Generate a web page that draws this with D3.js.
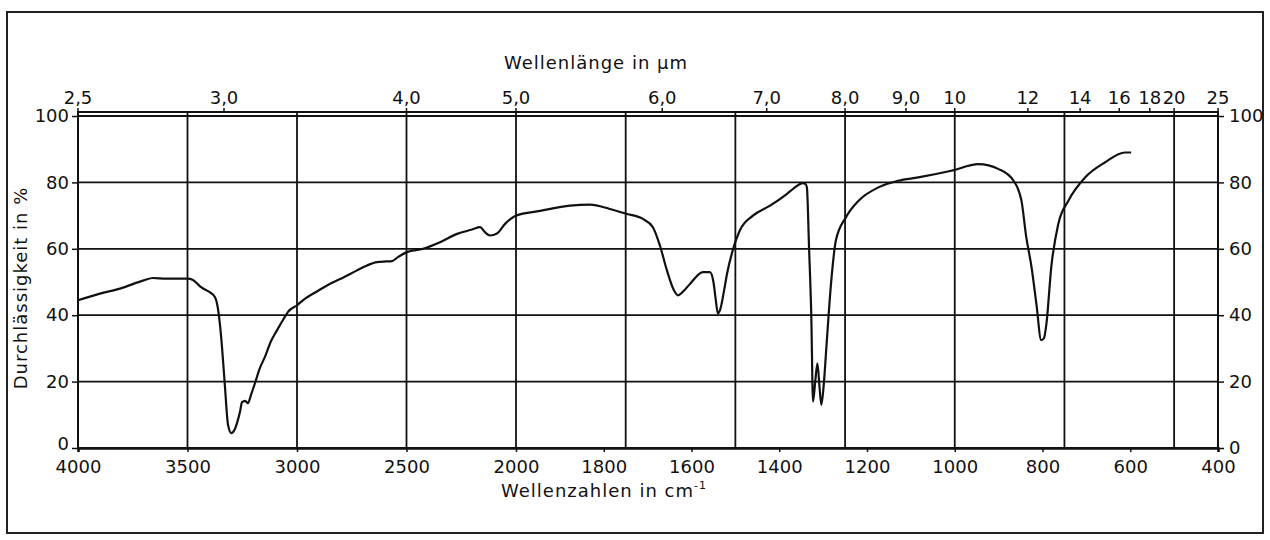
<!DOCTYPE html>
<html>
<head>
<meta charset="utf-8">
<script src="https://cdn.jsdelivr.net/npm/d3@7"></script>
<style>
  body { margin: 0; background: #fff; }
  text { font-family: "DejaVu Sans", sans-serif; fill: #111; }
</style>
</head>
<body>
<div id="chart"></div>
<script>
// spectrum: wavenumber (cm-1) and transmission (%)
var waveNumbers = [4000, 3900, 3808, 3700, 3658, 3600, 3500, 3475, 3440, 3400, 3375, 3361, 3350, 3342,
  3329, 3315, 3300, 3285, 3274, 3260, 3251, 3237, 3224, 3210, 3192, 3170, 3146, 3120, 3091, 3060,
  3041, 3000, 2973, 2900, 2849, 2800, 2726, 2680, 2635, 2590, 2566, 2539, 2498, 2425, 2347, 2269,
  2200, 2164, 2142, 2119, 2087, 2050, 2000, 1945, 1877, 1831, 1786, 1747, 1711, 1688, 1672, 1656,
  1640, 1631, 1620, 1603, 1574, 1558, 1550, 1545, 1540, 1535, 1525, 1519, 1505, 1490, 1460, 1421,
  1383, 1369, 1346, 1340, 1337, 1332, 1327, 1323, 1318, 1313, 1308, 1304, 1298, 1293, 1282, 1271,
  1248, 1219, 1174, 1129, 1083, 1008, 946, 900, 866, 848, 837, 825, 814, 803, 797, 791, 780, 764,
  741, 703, 658, 612, 598];
var transmission = [44.5, 46.5, 48, 50.5, 51.2, 51, 51, 50.6, 48.5, 47, 45.5, 42, 36, 30,
  18.5, 7, 4.5, 5.5, 7.5, 11, 13.8, 14.2, 13.5, 16, 19.5, 24, 27.5, 32, 35.5, 39,
  41, 43, 44.5, 47.5, 49.5, 51, 53.5, 55, 56, 56.2, 56.3, 57.5, 59, 60, 62, 64.5,
  65.8, 66.5, 65, 64, 64.6, 67.5, 70, 71.4, 73, 73.3, 72, 70.5, 69, 66.5, 61, 53.5,
  47.5, 46, 47, 49.5, 53, 53, 50, 45, 40.5, 41.5, 48, 52.5, 60, 65.5, 70, 73,
  76.5, 78, 79.8, 79.5, 78.5, 60, 40, 14, 20, 25.5, 18, 13, 20, 29.5, 49.5, 62.5,
  69.5, 74.5, 78.5, 80.5, 81.5, 83.5, 85.5, 84, 80.5, 74.5, 63.5, 54.5, 43.5, 32.5, 33, 37.5, 54.5, 67.5,
  74.5, 81.5, 86, 89, 89];

// axis labels
var bottomTicks = [4000, 3500, 3000, 2500, 2000, 1800, 1600, 1400, 1200, 1000, 800, 600, 400];
var gridWaveNumbers = [3500, 3000, 2500, 2000, 1750, 1500, 1250, 1000, 750, 500];
var microns = [2.5, 3, 4, 5, 6, 7, 8, 9, 10, 12, 14, 16, 18, 20, 25];
var percentTicks = [0, 20, 40, 60, 80, 100];

var width = 1270, height = 540;
var labelSize = '18px';

var svg = d3.select('#chart').append('svg')
  .attr('width', width)
  .attr('height', height);

// outer border of the figure
svg.append('rect')
  .attr('x', 7).attr('y', 12)
  .attr('width', 1256).attr('height', 521)
  .attr('fill', 'none')
  .attr('stroke', '#222')
  .attr('stroke-width', 2);

// IR spectra are drawn with a doubled scale below 2000 cm-1
var x = d3.scaleLinear().domain([4000, 2000, 400]).range([78, 516, 1218]);
var y = d3.scaleLinear().domain([0, 100]).range([448, 116]);

var plotTop = 112;

// horizontal grid
svg.append('g').selectAll('line')
  .data(percentTicks)
  .enter().append('line')
  .attr('x1', x(4000)).attr('x2', x(400))
  .attr('y1', function(d) { return y(d); })
  .attr('y2', function(d) { return y(d); })
  .attr('stroke', '#111')
  .attr('stroke-width', 1.8);

// vertical grid
svg.append('g').selectAll('line')
  .data(gridWaveNumbers)
  .enter().append('line')
  .attr('x1', function(d) { return x(d); })
  .attr('x2', function(d) { return x(d); })
  .attr('y1', plotTop).attr('y2', y(0))
  .attr('stroke', '#111')
  .attr('stroke-width', 1.8);

// frame
svg.append('rect')
  .attr('x', x(4000)).attr('y', plotTop)
  .attr('width', x(400) - x(4000)).attr('height', y(0) - plotTop)
  .attr('fill', 'none')
  .attr('stroke', '#111')
  .attr('stroke-width', 2);

// bottom axis - wavenumbers
var bottomAxis = d3.axisBottom(x)
  .tickValues(bottomTicks)
  .tickSize(4)
  .tickPadding(8)
  .tickFormat(d3.format('d'));

var gB = svg.append('g')
  .attr('transform', 'translate(0,' + y(0) + ')')
  .call(bottomAxis);
gB.select('.domain').attr('stroke-width', 2.5).attr('stroke', '#111');
gB.selectAll('.tick line').attr('stroke', '#111').attr('stroke-width', 1.5);
gB.selectAll('.tick text').style('font-size', labelSize).attr('fill', '#111');

// top axis - wavelength in micrometres
var gT = svg.append('g')
  .attr('transform', 'translate(0,' + plotTop + ')');
var topTicks = gT.selectAll('g')
  .data(microns)
  .enter().append('g')
  .attr('transform', function(d) { return 'translate(' + x(10000 / d) + ',0)'; });
topTicks.append('line')
  .attr('y1', 0).attr('y2', -4)
  .attr('stroke', '#111')
  .attr('stroke-width', 1.5);
topTicks.append('text')
  .attr('y', -8)
  .attr('text-anchor', 'middle')
  .style('font-size', labelSize)
  .text(function(d) { return d < 10 ? d3.format('.1f')(d).replace('.', ',') : d; });

// left and right axes - transmission
var gL = svg.append('g')
  .attr('transform', 'translate(' + x(4000) + ',0)')
  .call(d3.axisLeft(y).tickValues(percentTicks).tickSize(6).tickPadding(3));
var gR = svg.append('g')
  .attr('transform', 'translate(' + x(400) + ',0)')
  .call(d3.axisRight(y).tickValues(percentTicks).tickSize(6).tickPadding(5));
[gL, gR].forEach(function(g) {
  g.select('.domain').remove();
  g.selectAll('.tick line').attr('stroke', '#111').attr('stroke-width', 1.5);
  g.selectAll('.tick text').style('font-size', labelSize).attr('fill', '#111');
});
// the 0 sits just above the 4000 label, lift it a little
gL.selectAll('.tick').filter(function(d) { return d === 0; })
  .select('text').attr('dy', '0.1em');

// axis titles
svg.append('text')
  .attr('x', 596).attr('y', 69)
  .attr('text-anchor', 'middle')
  .style('font-size', labelSize)
  .style('letter-spacing', '1px')
  .text('Wellenlänge in μm');

var xTitle = svg.append('text')
  .attr('x', 604).attr('y', 497)
  .attr('text-anchor', 'middle')
  .style('font-size', labelSize)
  .style('letter-spacing', '1px');
xTitle.append('tspan').text('Wellenzahlen in cm');
xTitle.append('tspan').attr('dy', -8).style('font-size', '11px').text('-1');

svg.append('text')
  .attr('transform', 'translate(27,' + 288 + ') rotate(-90)')
  .attr('text-anchor', 'middle')
  .style('font-size', labelSize)
  .style('letter-spacing', '1px')
  .text('Durchlässigkeit in %');

// the spectrum
var spectrum = waveNumbers.map(function(w, i) { return { w: w, t: transmission[i] }; });

var line = d3.line()
  .x(function(d) { return x(d.w); })
  .y(function(d) { return y(d.t); })
  .curve(d3.curveMonotoneX);

svg.append('path')
  .datum(spectrum)
  .attr('d', line)
  .attr('fill', 'none')
  .attr('stroke', '#111')
  .attr('stroke-width', 2.2);
</script>
</body>
</html>
